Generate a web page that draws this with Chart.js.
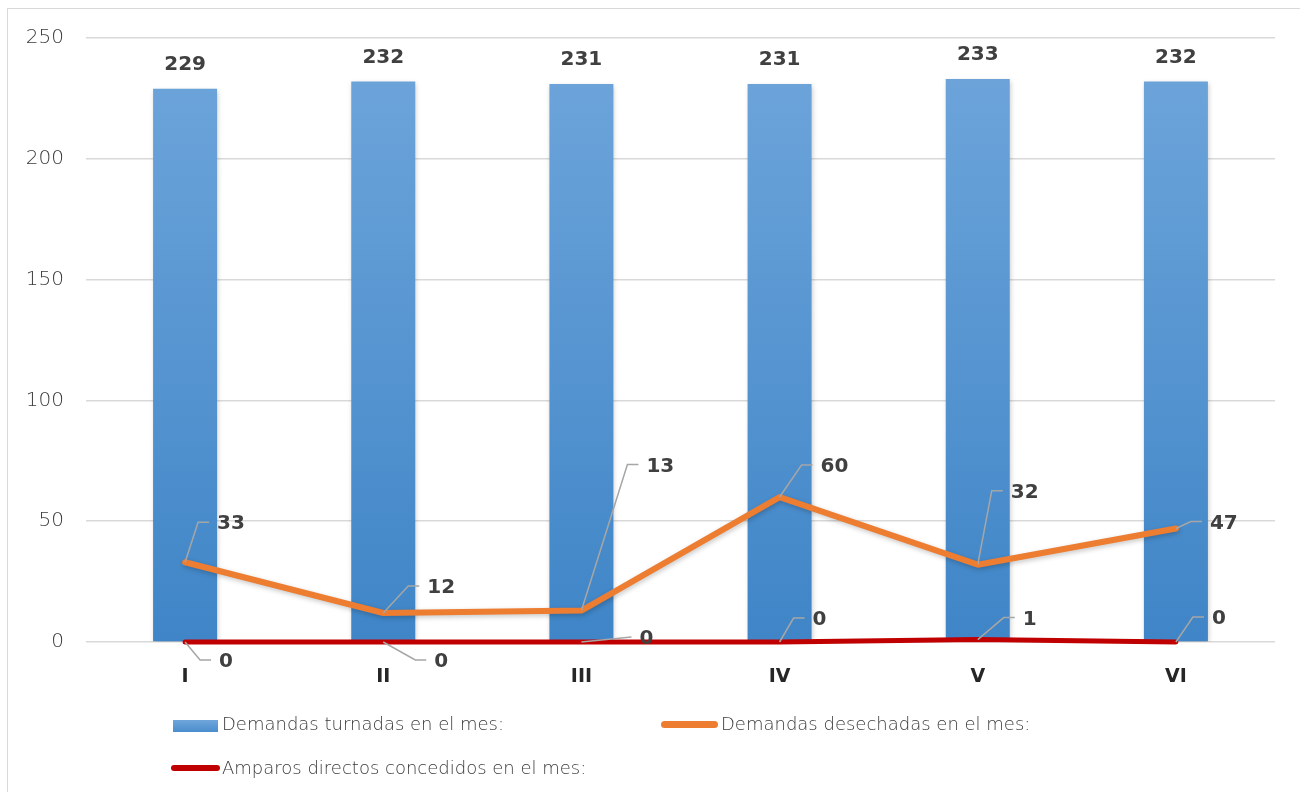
<!DOCTYPE html>
<html>
<head>
<meta charset="utf-8">
<script src="https://cdn.jsdelivr.net/npm/chart.js@4.4.1/dist/chart.umd.min.js"></script>
<style>
  html, body { margin: 0; padding: 0; background: #fff; }
  #wrap { position: relative; width: 1300px; height: 792px; overflow: hidden; }
  #frame { position: absolute; left: 7px; top: 8px; width: 1300px; height: 800px; border: 1px solid #d9d9d9; box-sizing: border-box; }
  canvas { position: absolute; left: 0; top: 0; }
  .leg { position: absolute; font-family: 'DejaVu Sans', sans-serif; font-weight: 200; font-size: 18px; color: #3a3a3a; white-space: nowrap; }
  .sw { position: absolute; }
</style>
</head>
<body>
<div id="wrap">
  <div id="frame"></div>
  <canvas id="chart" width="1300" height="792"></canvas>
  <div class="sw" style="left:173px;top:720px;width:45px;height:12px;background:linear-gradient(#6fa6db,#4a8dcc)"></div>
  <div class="leg" style="left:222px;top:713px">Demandas turnadas en el mes:</div>
  <div class="sw" style="left:661px;top:721px;width:57px;height:7px;border-radius:4px;background:#ed7d31"></div>
  <div class="leg" style="left:721px;top:713px">Demandas desechadas en el mes:</div>
  <div class="sw" style="left:171px;top:765px;width:49px;height:6px;border-radius:3px;background:#c00000"></div>
  <div class="leg" style="left:222px;top:757px">Amparos directos concedidos en el mes:</div>
</div>
<script>
const months = ['I', 'II', 'III', 'IV', 'V', 'VI']
const turnadas = [229, 232, 231, 231, 233, 232]
const desechadas = [33, 12, 13, 60, 32, 47]
const amparos = [0, 0, 0, 0, 1, 0]

const seriesNames = ['Demandas turnadas en el mes:', 'Demandas desechadas en el mes:', 'Amparos directos concedidos en el mes:']

// leader line elbows for the line labels (pixels from the point)
const orangeLeaders = [[13, -40], [25, -27], [46, -146], [22, -32], [14, -74], [15, -7]]
const redLeaders = [[15, 18], [32, 18], [50, -5], [14, -24], [26, -22], [17, -25]]

const font = 'DejaVu Sans'

const labelPlugin = {
  id: 'labels',
  afterDatasetsDraw(chart) {
    const ctx = chart.ctx
    ctx.save()
    ctx.font = `bold 20px "${font}"`
    ctx.fillStyle = '#404040'
    // bar values
    chart.getDatasetMeta(0).data.forEach((bar, i) => {
      ctx.textAlign = 'center'
      ctx.textBaseline = 'middle'
      ctx.fillText(turnadas[i], bar.x, bar.y - 24)
    })
    const leaders = { 1: orangeLeaders, 2: redLeaders }
    const values = { 1: desechadas, 2: amparos }
    ;[1, 2].forEach(d => {
      chart.getDatasetMeta(d).data.forEach((pt, i) => {
        const [dx, dy] = leaders[d][i]
        const ex = pt.x + dx, ey = pt.y + dy
        const hl = d === 2 && i === 2 ? 0 : 11
        ctx.strokeStyle = '#a6a6a6'
        ctx.lineWidth = 1.5
        ctx.beginPath()
        ctx.moveTo(pt.x, pt.y)
        ctx.lineTo(ex, ey)
        ctx.lineTo(ex + hl, ey)
        ctx.stroke()
        ctx.textAlign = 'left'
        ctx.textBaseline = 'middle'
        ctx.fillText(values[d][i], ex + hl + 8, ey + 2)
      })
    })
    ctx.restore()
  }
}

const shadowPlugin = {
  id: 'shadow',
  beforeDatasetDraw(chart, args) {
    const ctx = chart.ctx
    ctx.save()
    if (args.index === 2) return
    ctx.shadowColor = 'rgba(0,0,0,0.22)'
    ctx.shadowBlur = 5
    ctx.shadowOffsetX = 1
    ctx.shadowOffsetY = 2
  },
  afterDatasetDraw(chart) {
    chart.ctx.restore()
  }
}

function barGradient(context) {
  const area = context.chart.chartArea
  if (!area) return '#5b9bd5'
  const g = context.chart.ctx.createLinearGradient(0, area.top, 0, area.bottom)
  g.addColorStop(0, '#6fa6db')
  g.addColorStop(1, '#3f85c7')
  return g
}

new Chart(document.getElementById('chart'), {
  data: {
    labels: months,
    datasets: [
      { type: 'bar', label: seriesNames[0], data: turnadas, backgroundColor: barGradient, barPercentage: 0.323, categoryPercentage: 1, order: 3 },
      { type: 'line', label: seriesNames[1], data: desechadas, borderColor: '#ed7d31', borderWidth: 6, pointRadius: 0, borderCapStyle: 'round', borderJoinStyle: 'round', clip: false, order: 2 },
      { type: 'line', label: seriesNames[2], data: amparos, borderColor: '#c00000', borderWidth: 5, pointRadius: 0, borderCapStyle: 'round', clip: false, order: 1 }
    ]
  },
  options: {
    responsive: false,
    animation: false,
    layout: { padding: { left: 0, top: 38, right: 25, bottom: 100 } },
    plugins: { legend: { display: false }, tooltip: { enabled: false } },
    scales: {
      x: {
        grid: { display: false },
        border: { display: false },
        ticks: { color: '#262626', padding: 16, font: { family: font, size: 19, weight: 'bold' } },
        afterFit(s) { s.height = 50 }
      },
      y: {
        min: 0, max: 250,
        ticks: { stepSize: 50, color: '#3a3a3a', padding: 22, font: { family: font, size: 20, weight: 200 } },
        grid: { color: '#d9d9d9', lineWidth: 1.5, drawTicks: false },
        border: { display: false },
        afterFit(s) { s.width = 86 }
      }
    }
  },
  plugins: [shadowPlugin, labelPlugin]
})
</script>
</body>
</html>
